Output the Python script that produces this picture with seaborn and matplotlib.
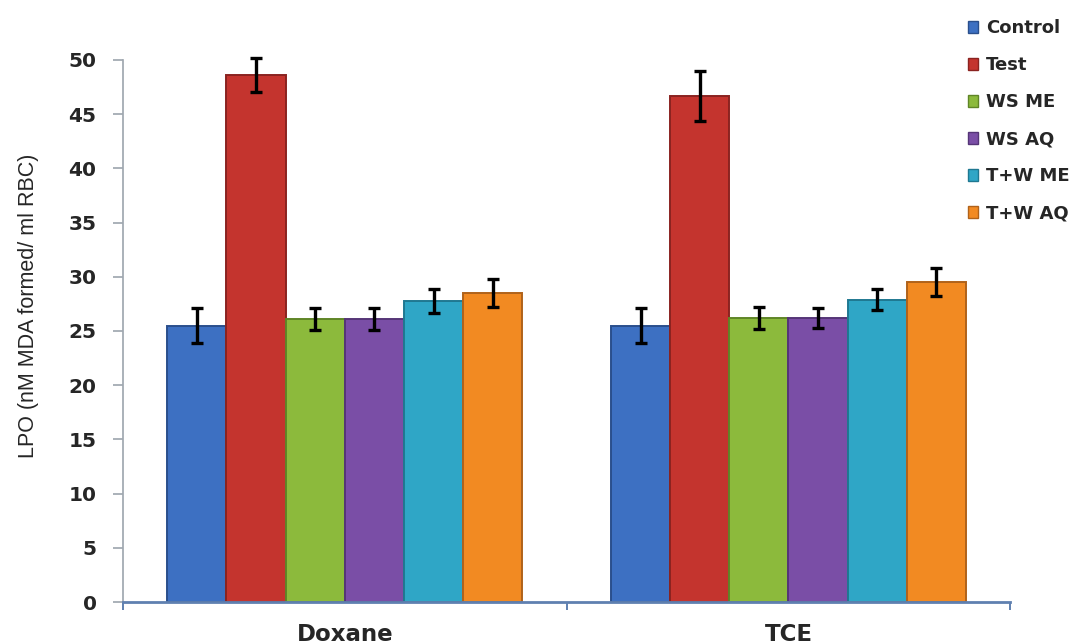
import numpy as np
import pandas as pd
import matplotlib
matplotlib.use("Agg")
import matplotlib.pyplot as plt
import seaborn as sns
from matplotlib.patches import Patch

categories = ["Doxane", "TCE"]
groups = ["Control", "Test", "WS ME", "WS AQ", "T+W ME", "T+W AQ"]
doxane_vals = [25.5, 48.6, 26.1, 26.1, 27.8, 28.5]
doxane_err = [1.6, 1.6, 1.0, 1.0, 1.1, 1.3]
tce_vals = [25.5, 46.7, 26.2, 26.2, 27.9, 29.5]
tce_err = [1.6, 2.3, 1.0, 0.9, 1.0, 1.3]
colors = ["#3d70c2", "#c4342e", "#8cba3c", "#7a4ea6", "#2fa6c6", "#f28a22"]
edges = ["#2a4f8c", "#8a2320", "#5f8527", "#553577", "#1f7891", "#b0621a"]

sns.set_theme(style="white")
plt.rcParams['font.family'] = ['Liberation Sans', 'DejaVu Sans']

rows = []
for cat, vals, errs in [("Doxane", doxane_vals, doxane_err), ("TCE", tce_vals, tce_err)]:
    for g, v, e in zip(groups, vals, errs):
        rows.append({"cat": cat, "group": g, "value": v, "err": e})
df = pd.DataFrame(rows)

fig = plt.figure(figsize=(10.91, 6.44), dpi=100)
ax = fig.add_axes([0.1127, 0.0652, 0.8133, 0.8418])
sns.barplot(data=df, x="cat", y="value", hue="group", order=categories,
            hue_order=groups, palette=colors, width=0.8, ax=ax, legend=False,
            errorbar=None, saturation=1)

for gi, g in enumerate(groups):
    cont = ax.containers[gi]
    sub = df[df.group == g].set_index("cat").loc[categories]
    for bar, (v, e) in zip(cont, zip(sub.value, sub.err)):
        bar.set_edgecolor(edges[gi])
        bar.set_linewidth(1.4)
        cx = bar.get_x() + bar.get_width() / 2
        ax.errorbar(cx, v, yerr=e, fmt="none", ecolor="black", elinewidth=2.4,
                    capsize=4.5, capthick=2.4, clip_on=False, zorder=5)

bold_font = {"family": "DejaVu Sans", "weight": "bold"}
ax.set_ylim(0, 50)
ax.set_xlim(-0.5, 1.5)
ax.set_yticks(np.arange(0, 51, 5))
ax.set_yticklabels([str(v) for v in range(0, 51, 5)], fontdict=bold_font, fontsize=14.5)
ax.tick_params(axis="y", which="both", left=True, length=7, color="#a0a8b0", pad=12)
ax.set_xticks([0, 1])
ax.set_xticklabels(categories, fontdict=bold_font, fontsize=16.5)
ax.tick_params(axis="x", length=0, pad=15)
ax.set_xticks([-0.5, 0.5, 1.5], minor=True)
ax.tick_params(axis="x", which="minor", bottom=True, length=6, color="#5f80b0", width=1.4)
ax.set_xlabel("")
ax.set_ylabel("LPO (nM MDA formed/ ml RBC)", fontsize=15.5, family="Liberation Sans")
ax.yaxis.set_label_coords(-0.095, 0.546)
for s in ["top", "right"]:
    ax.spines[s].set_visible(False)
ax.spines["left"].set_color("#a0a8b0")
ax.spines["bottom"].set_color("#5f80b0")
ax.spines["bottom"].set_linewidth(2)

handles = [Patch(facecolor=c, edgecolor=e) for c, e in zip(colors, edges)]
fig.legend(handles, groups, loc="upper left", bbox_to_anchor=(0.872, 0.995),
           frameon=False, handlelength=0.55, handleheight=0.6, handletextpad=0.45,
           labelspacing=1.05, prop={"family": "DejaVu Sans", "weight": "bold", "size": 13})

fig.savefig("out.png", dpi=100)
